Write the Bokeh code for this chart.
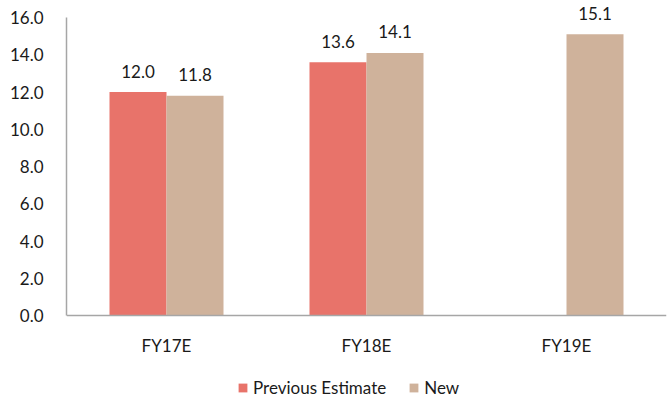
from bokeh.plotting import figure
from bokeh.models import (ColumnDataSource, FactorRange, Range1d, FixedTicker,
                          NumeralTickFormatter, Legend, LegendItem, Span)
from bokeh.transform import dodge
from bokeh.core.properties import value
from bokeh.embed import file_html
from bokeh.resources import INLINE

categories = ["FY17E", "FY18E", "FY19E"]
previous_estimate = [12.0, 13.6, None]
new_estimate = [11.8, 14.1, 15.1]
y_ticks = [0, 2, 4, 6, 8, 10, 12, 14, 16]

RED = "#E8736A"
TAN = "#CFB29B"
AXIS = "#A6A6A6"
FONT = "Lato"
TXT = "#1a1a1a"
FS = "17px"

prev_cats = [c for c, v in zip(categories, previous_estimate) if v is not None]
prev_vals = [v for v in previous_estimate if v is not None]
src_prev = ColumnDataSource(dict(cat=prev_cats, val=prev_vals,
                                 lab=[f"{v:.1f}" for v in prev_vals]))
src_new = ColumnDataSource(dict(cat=categories, val=new_estimate,
                                lab=[f"{v:.1f}" for v in new_estimate]))
src_cat = ColumnDataSource(dict(cat=categories, y0=[0] * len(categories)))

# layout: canvas 398 px tall; value 0 sits 315 px down, value 16 sits 17 px down
y_max = y_ticks[-1]
px_per_unit = (315 - 17) / y_max
y_lo = -(398 - 315) / px_per_unit
y_hi = 315 / px_per_unit

p = figure(x_range=FactorRange(*categories, range_padding=0),
           y_range=Range1d(y_lo, y_hi),
           width=668, height=398, x_axis_location=None,
           min_border_left=66, min_border_right=2,
           min_border_top=0, min_border_bottom=0,
           output_backend="svg", toolbar_location=None)
p.outline_line_color = None
p.xgrid.grid_line_color = None
p.ygrid.grid_line_color = None

bw = 0.285
off = bw / 2
r_prev = p.vbar(x=dodge("cat", -off, range=p.x_range), top="val", width=bw,
                source=src_prev, fill_color=RED, line_color=None)
r_new = p.vbar(x=dodge("cat", off, range=p.x_range), top="val", width=bw,
               source=src_new, fill_color=TAN, line_color=None)

for src, o in ((src_prev, -off), (src_new, off)):
    p.text(x=dodge("cat", o, range=p.x_range), y="val", text="lab", source=src,
           text_align="center", text_baseline="alphabetic", y_offset=-21,
           text_font=value(FONT), text_font_size=FS, text_color=TXT)

# category axis: baseline line + labels
p.add_layout(Span(location=0, dimension="width", line_color=AXIS, line_width=1.5))
p.text(x="cat", y="y0", text="cat", source=src_cat, text_align="center",
       text_baseline="middle", y_offset=30,
       text_font=value(FONT), text_font_size=FS, text_color=TXT)

ax = p.yaxis[0]
ax.axis_line_color = AXIS
ax.axis_line_width = 1.5
ax.major_tick_line_color = None
ax.minor_tick_line_color = None
ax.major_label_text_font = FONT
ax.major_label_text_font_size = FS
ax.major_label_text_color = TXT
ax.bounds = (0, y_max)
ax.major_label_standoff = 17
ax.ticker = FixedTicker(ticks=y_ticks)
ax.formatter = NumeralTickFormatter(format="0.0")

legend = Legend(items=[LegendItem(label="Previous Estimate", renderers=[r_prev]),
                       LegendItem(label="New", renderers=[r_new])],
                orientation="horizontal", location=(171, 0),
                glyph_width=11, glyph_height=11, label_height=11,
                label_standoff=5, spacing=22,
                padding=0, margin=0, border_line_color=None,
                background_fill_alpha=0,
                label_text_font=FONT, label_text_font_size=FS,
                label_text_color=TXT)
p.add_layout(legend, "center")

open("out.html", "w").write(file_html(p, INLINE))
